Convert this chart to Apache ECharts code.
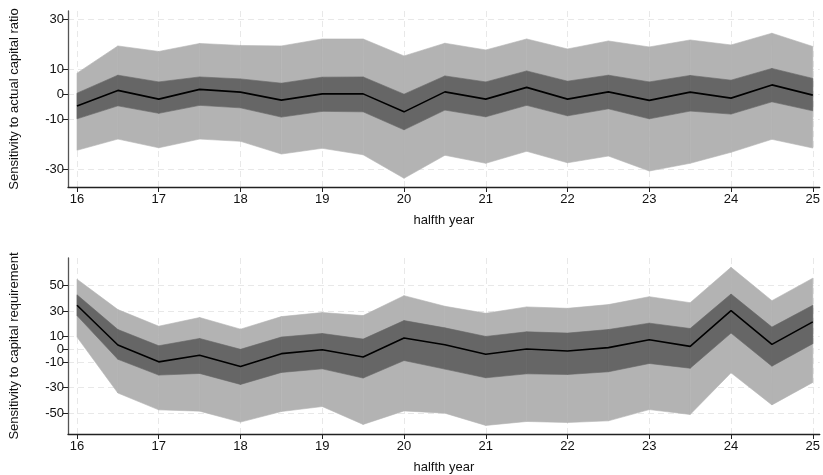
<!DOCTYPE html>
<html>
<head>
<meta charset="utf-8">
<script src="https://cdn.jsdelivr.net/npm/echarts@6/dist/echarts.min.js"></script>
<style>html,body{margin:0;padding:0;background:#fff}#c{width:823px;height:475px}</style>
</head>
<body>
<div id="c"></div>
<script>
// x positions (half years)
const xs = [16,16.5,17,17.5,18,18.5,19,19.5,20,20.5,21,21.5,22,22.5,23,23.5,24,24.5,25];
const xTicks = [16,17,18,19,20,21,22,23,24,25];

// Panel 1: sensitivity to actual capital ratio
const p1Mean   = [-4.8,1.5,-2.0,1.9,0.8,-2.4,0.1,0.1,-7.1,0.9,-2.0,2.7,-2.0,0.9,-2.5,0.8,-1.6,3.7,-0.4];
const p1InLo   = [-9.9,-4.7,-7.7,-4.5,-5.5,-9.2,-6.9,-7.1,-14.3,-6.4,-9.1,-4.5,-8.7,-5.9,-9.9,-6.8,-8.0,-3.1,-6.7];
const p1InHi   = [0.4,7.6,4.9,6.9,6.1,4.4,6.8,6.9,0.0,7.3,4.9,9.3,5.2,7.6,4.9,7.5,5.6,10.3,6.3];
const p1OutLo  = [-22.5,-18.0,-21.5,-18.0,-18.9,-24.0,-21.7,-24.3,-33.7,-24.5,-27.7,-22.9,-27.5,-24.8,-30.8,-27.7,-23.3,-18.1,-21.6];
const p1OutHi  = [8.4,19.3,17.1,20.3,19.5,19.3,22.1,22.1,15.3,20.4,17.7,22.1,18.1,21.3,18.9,21.7,19.7,24.4,19.1];
const p1YTicks = [30,10,0,-10,-30];

// Panel 2: sensitivity to capital requirement
const p2Mean   = [34.5,3.4,-9.8,-4.7,-13.5,-3.4,-0.3,-6.0,8.8,3.6,-3.9,0.3,-1.3,1.3,7.5,2.3,30.3,3.9,21.5];
const p2InLo   = [26.4,-7.8,-20.2,-18.9,-27.5,-18.1,-15.3,-22.5,-8.8,-15.5,-22.3,-19.2,-19.7,-17.6,-11.1,-14.8,12.7,-13.2,4.4];
const p2InHi   = [42.7,15.5,2.8,8.5,0.0,9.6,12.4,8.0,22.5,16.8,10.1,13.7,12.7,15.5,20.5,16.3,43.3,17.4,34.5];
const p2OutLo  = [9.6,-34.2,-47.4,-48.4,-57.0,-48.7,-44.8,-58.8,-48.2,-50.0,-59.6,-56.5,-57.3,-56.0,-47.2,-51.0,-18.4,-43.5,-25.9];
const p2OutHi  = [54.9,31.1,18.1,24.9,15.8,25.6,28.8,26.4,42.0,33.7,28.2,33.2,32.1,35.0,41.2,36.5,64.2,38.1,55.7];
const p2YTicks = [50,30,10,0,-10,-30,-50];

const xTitle = 'halfth year';
const y1Title = 'Sensitivity to actual capital ratio';
const y2Title = 'Sensitivity to capital requirement';

const FONT = 'Liberation Sans, Arial, sans-serif';
const LIGHT = '#b3b3b3';
const DARK = '#666666';
const GRIDC = '#e8e8e8';

function pairs(vals){ return xs.map((x,i)=>[x, vals[i]]); }
// one quadrilateral per interval between consecutive x values
function segs(lo, hi){
  return xs.slice(0,-1).map((x,i)=>[x, xs[i+1], lo[i], hi[i], lo[i+1], hi[i+1]]);
}
function bandRender(color){
  return function(params, api){
    const a = api.coord([api.value(0), api.value(2)]);
    const b = api.coord([api.value(0), api.value(3)]);
    const c = api.coord([api.value(1), api.value(5)]);
    const d = api.coord([api.value(1), api.value(4)]);
    return {type:'polygon', shape:{points:[a,b,c,d]},
      style:{fill:color, stroke:color, lineWidth:0.6}};
  };
}
function band(idx, lo, hi, color, z){
  return {type:'custom', xAxisIndex:idx, yAxisIndex:idx, silent:true, z:z,
    data:segs(lo,hi), encode:{x:[0,1], y:[2,3,4,5]}, renderItem:bandRender(color)};
}
function panelSeries(idx, outLo, inLo, inHi, outHi, mean){
  return [
    band(idx, outLo, outHi, LIGHT, 2),
    band(idx, inLo, inHi, DARK, 3),
    {type:'line', xAxisIndex:idx, yAxisIndex:idx, symbol:'none', silent:true,
     data:pairs(mean), lineStyle:{color:'#000', width:1.6}, z:5}
  ];
}

function xAxis(idx){
  return {type:'value', gridIndex:idx, min:15.89, max:25.085,
    name:xTitle, nameLocation:'middle', nameGap:27,
    nameTextStyle:{fontFamily:FONT, fontSize:13, color:'#111'},
    axisLine:{show:true, onZero:false, lineStyle:{color:'#222', width:1.3}},
    axisTick:{show:true, length:5, customValues:xTicks, lineStyle:{color:'#222'}},
    axisLabel:{customValues:xTicks, fontFamily:FONT, fontSize:13, color:'#111', margin:6},
    splitLine:{show:true, lineStyle:{color:GRIDC, type:[6,4], width:1}}
  };
}
function yAxis(idx, min, max, ticks, title){
  return {type:'value', gridIndex:idx, min:min, max:max,
    name:title, nameLocation:'middle', nameGap:47,
    nameTextStyle:{fontFamily:FONT, fontSize:13, color:'#111'},
    axisLine:{show:true, onZero:false, lineStyle:{color:'#555', width:1.3}},
    axisTick:{show:true, length:5, customValues:ticks, lineStyle:{color:'#222'}},
    axisLabel:{customValues:ticks, fontFamily:FONT, fontSize:13, color:'#111', margin:4},
    splitLine:{show:true, lineStyle:{color:GRIDC, type:[6,4], width:1}}
  };
}

const chart = echarts.init(document.getElementById('c'), null, {renderer:'canvas'});
chart.setOption({
  animation:false,
  backgroundColor:'#fff',
  grid:[
    {left:65, right:0, top:11, height:176},
    {left:65, right:0, top:258, height:177}
  ],
  xAxis:[xAxis(0), xAxis(1)],
  yAxis:[yAxis(0,-37.2,33.3,p1YTicks,y1Title), yAxis(1,-66.3,71.5,p2YTicks,y2Title)],
  series:[].concat(panelSeries(0,p1OutLo,p1InLo,p1InHi,p1OutHi,p1Mean),
                   panelSeries(1,p2OutLo,p2InLo,p2InHi,p2OutHi,p2Mean))
});
</script>
</body>
</html>
